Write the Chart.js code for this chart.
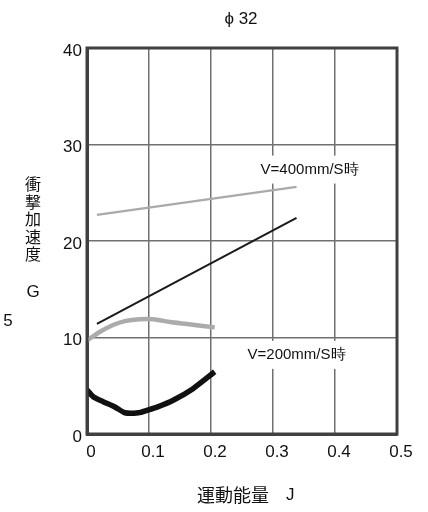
<!DOCTYPE html>
<html>
<head>
<meta charset="utf-8">
<script src="https://cdn.jsdelivr.net/npm/chart.js@4"></script>
<style>
  body { margin: 0; background: #fff; }
  #wrap { width: 428px; height: 512px; position: relative; }
</style>
</head>
<body>
<div id="wrap"><canvas id="chart"></canvas></div>
<script>
// 衝撃加速度 vs 運動能量 (φ32)
const xTicks = [0, 0.1, 0.2, 0.3, 0.4, 0.5];
const yTicks = [0, 10, 20, 30, 40];

// V=400mm/S時 (thin lines)
const upperGreyX = [0.016, 0.338];
const upperGreyY = [22.7, 25.6];
const upperBlackX = [0.016, 0.338];
const upperBlackY = [11.4, 22.4];

// V=200mm/S時 (thick lines)
const lowerGreyX = [0.0, 0.021, 0.042, 0.061, 0.085, 0.107, 0.134, 0.161, 0.206];
const lowerGreyY = [9.7, 10.6, 11.3, 11.7, 11.9, 11.9, 11.6, 11.4, 11.05];
const lowerBlackX = [0.0, 0.01, 0.026, 0.045, 0.061, 0.083, 0.099, 0.112, 0.139, 0.171, 0.206];
const lowerBlackY = [4.56, 3.87, 3.35, 2.8, 2.2, 2.2, 2.5, 2.76, 3.5, 4.7, 6.45];

const FONT = '"Liberation Sans", Arial, sans-serif';
const CJK = '"Noto Sans CJK JP", "Noto Sans CJK SC", sans-serif';
const TEXT = '#111';

function pts(xs, ys) {
    return xs.map((x, i) => ({ x: x, y: ys[i] }));
}

// labels in the plot, with white box behind them
const labelPlugin = {
    id: 'labels',
    beforeDatasetsDraw(chart) {
        const ctx = chart.ctx;
        const x = chart.scales.x, y = chart.scales.y;
        ctx.save();
        ctx.font = '15px ' + FONT;
        ctx.textBaseline = 'middle';
        [['V=400mm/S時', 0.28, 27.4], ['V=200mm/S時', 0.259, 8.2]].forEach(([t, vx, vy]) => {
            const px = x.getPixelForValue(vx), py = y.getPixelForValue(vy);
            const w = ctx.measureText(t).width;
            ctx.fillStyle = '#fff';
            ctx.fillRect(px - 4, py - 14, w + 8, 28);
            ctx.fillStyle = TEXT;
            ctx.fillText(t, px, py);
        });
        ctx.restore();
    },
    afterDraw(chart) {
        const ctx = chart.ctx;
        const a = chart.chartArea;
        ctx.save();
        // frame
        ctx.strokeStyle = '#404040';
        ctx.lineWidth = 3;
        ctx.strokeRect(a.left, a.top, a.right - a.left, a.bottom - a.top);

        ctx.fillStyle = TEXT;
        ctx.textAlign = 'center';
        ctx.textBaseline = 'middle';
        ctx.font = '17px ' + FONT;
        ctx.fillText('ϕ 32', 241, 19);

        // y title, vertical
        ctx.font = '16px ' + CJK;
        const chars = ['衝', '撃', '加', '速', '度'];
        chars.forEach((c, i) => ctx.fillText(c, 33, 184 + i * 17.6));
        ctx.font = '17px ' + FONT;
        ctx.fillText('G', 33, 292);
        ctx.fillText('5', 8, 321);

        // x title
        ctx.font = '18px ' + CJK;
        ctx.textAlign = 'left';
        ctx.fillText('運動能量', 197, 495);
        ctx.font = '17px ' + FONT;
        ctx.fillText('J', 286, 495);
        ctx.restore();
    }
};

new Chart(document.getElementById('chart'), {
    type: 'line',
    data: {
        datasets: [
            { data: pts(upperGreyX, upperGreyY), borderColor: '#aaaaaa', borderWidth: 2.2, tension: 0 },
            { data: pts(upperBlackX, upperBlackY), borderColor: '#1a1a1a', borderWidth: 2, tension: 0 },
            { data: pts(lowerGreyX, lowerGreyY), borderColor: '#ababab', borderWidth: 4.5, tension: 0.2 },
            { data: pts(lowerBlackX, lowerBlackY), borderColor: '#111111', borderWidth: 5.5, tension: 0.2 }
        ]
    },
    options: {
        responsive: true,
        maintainAspectRatio: false,
        animation: false,
        layout: { padding: { top: 48, right: 31, left: 0, bottom: 0 } },
        elements: { point: { radius: 0 } },
        plugins: {
            legend: { display: false },
            tooltip: { enabled: false }
        },
        scales: {
            x: {
                type: 'linear',
                min: 0,
                max: 0.5,
                afterBuildTicks: s => { s.ticks = xTicks.map(v => ({ value: v })); },
                afterFit: s => { s.height = 78; },
                ticks: {
                    color: TEXT,
                    font: { size: 17, family: FONT },
                    padding: 8,
                    labelOffset: 4,
                    maxRotation: 0,
                    callback: v => v === 0 ? '0' : v.toFixed(1)
                },
                grid: { color: '#707070', lineWidth: 1.5, drawTicks: false },
                border: { color: '#404040', width: 3 }
            },
            y: {
                min: 0,
                max: 40,
                afterBuildTicks: s => { s.ticks = yTicks.map(v => ({ value: v })); },
                afterFit: s => { s.width = 87; },
                ticks: {
                    color: TEXT,
                    font: { size: 17, family: FONT },
                    padding: 5,
                    labelOffset: 3
                },
                grid: { color: '#707070', lineWidth: 1.5, drawTicks: false },
                border: { color: '#404040', width: 3 }
            }
        }
    },
    plugins: [labelPlugin]
});
</script>
</body>
</html>
